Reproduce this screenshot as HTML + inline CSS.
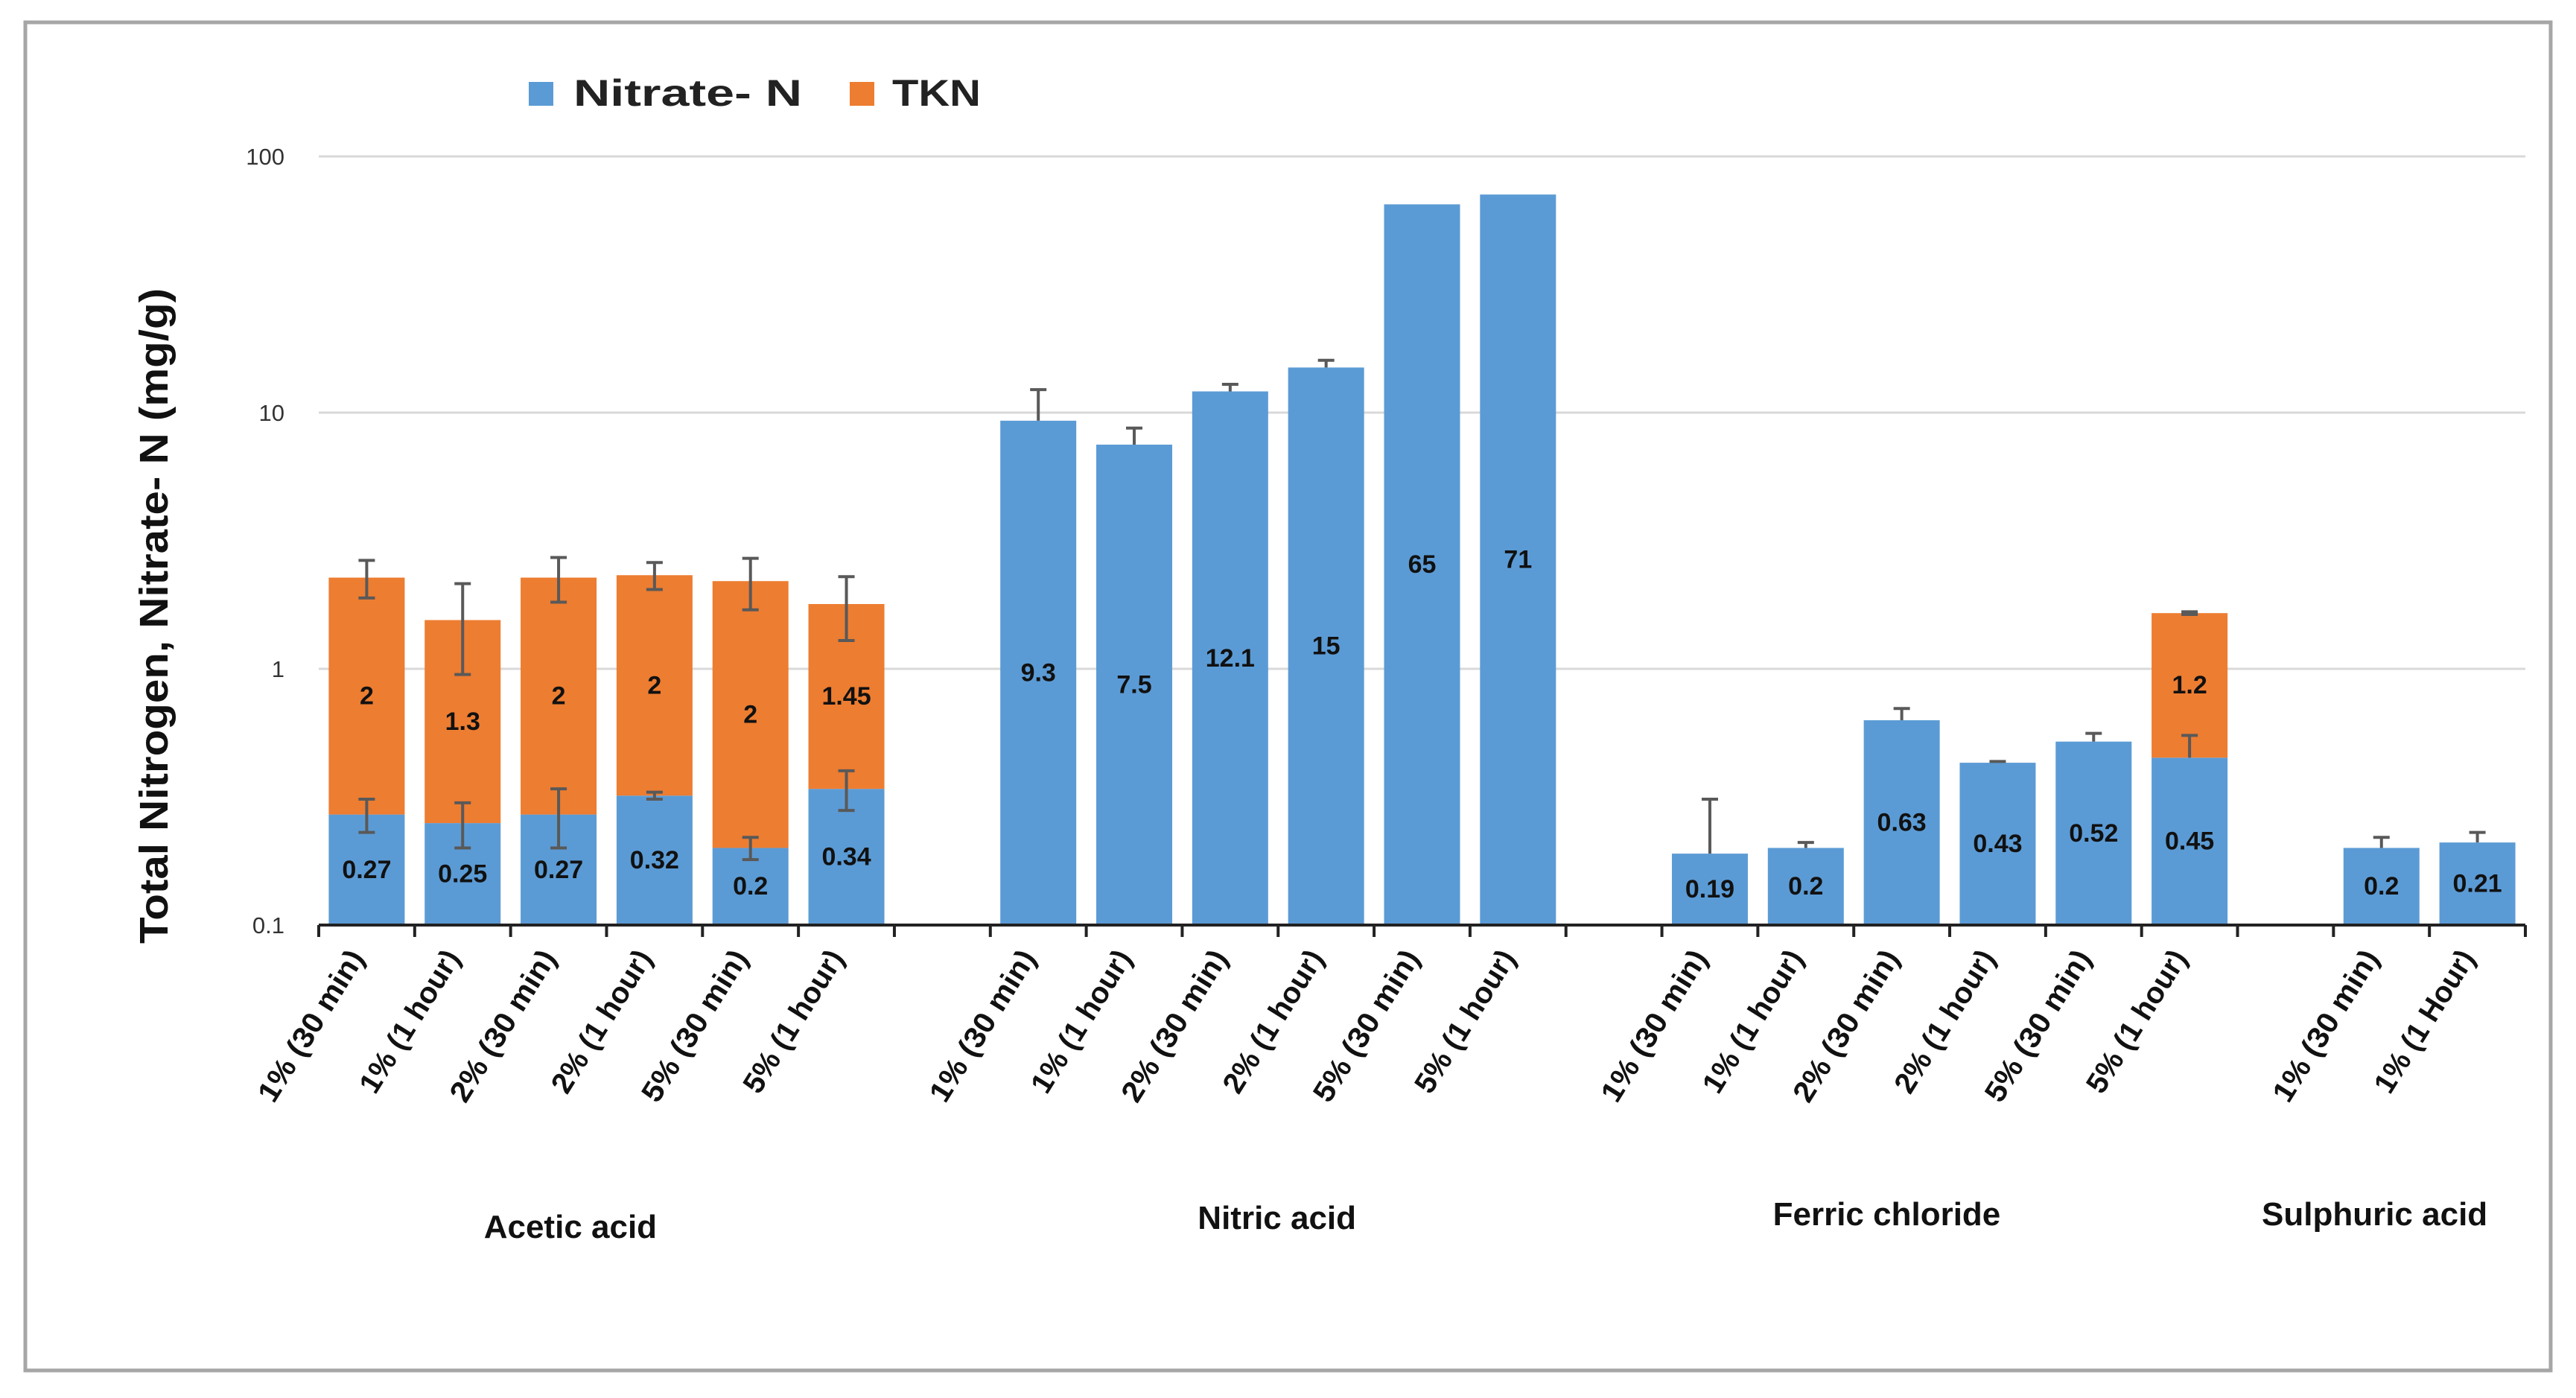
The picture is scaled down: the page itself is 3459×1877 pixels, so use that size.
<!DOCTYPE html>
<html><head><meta charset="utf-8"><style>
html,body{margin:0;padding:0;background:#fff;}
svg{display:block;font-family:"Liberation Sans",sans-serif;}
</style></head><body>
<svg id="chart" width="3459" height="1877" viewBox="0 0 3459 1877" xmlns="http://www.w3.org/2000/svg">
<rect x="0" y="0" width="3459" height="1877" fill="#fff"/>
<rect x="34" y="30" width="3391" height="1810" fill="none" stroke="#a6a6a6" stroke-width="5"/>
<g id="grid"></g>
<g id="bars"></g>
<g id="errs"></g>
<g id="vals"></g>
<g id="axis"></g>
<g>
  <rect x="710" y="110" width="33" height="32" fill="#5B9BD5"/>
  <text x="770" y="142" font-size="50" font-weight="bold" fill="#222" textLength="307" lengthAdjust="spacingAndGlyphs">Nitrate- N</text>
  <rect x="1141" y="110" width="33" height="32" fill="#ED7D31"/>
  <text x="1198" y="142" font-size="50" font-weight="bold" fill="#222" textLength="119" lengthAdjust="spacingAndGlyphs">TKN</text>
</g>
<text transform="translate(225,827) rotate(-90)" text-anchor="middle" font-size="54" font-weight="bold" fill="#111" textLength="880" lengthAdjust="spacingAndGlyphs">Total Nitrogen, Nitrate- N (mg/g)</text>
</svg>
<script>
const categories = ["1% (30 min)","1% (1 hour)","2% (30 min)","2% (1 hour)","5% (30 min)","5% (1 hour)",
 "1% (30 min)","1% (1 hour)","2% (30 min)","2% (1 hour)","5% (30 min)","5% (1 hour)",
 "1% (30 min)","1% (1 hour)","2% (30 min)","2% (1 hour)","5% (30 min)","5% (1 hour)",
 "1% (30 min)","1% (1 Hour)"];
const slots = [0,1,2,3,4,5, 7,8,9,10,11,12, 14,15,16,17,18,19, 21,22];
const nitrate = [0.27,0.25,0.27,0.32,0.2,0.34, 9.3,7.5,12.1,15,65,71, 0.19,0.2,0.63,0.43,0.52,0.45, 0.2,0.21];
const tkn = [2,1.3,2,2,2,1.45, 0,0,0,0,0,0, 0,0,0,0,0,1.2, 0,0];
const tknLabels = ["2","1.3","2","2","2","1.45","","","","","","","","","","","","1.2","",""];
const nitrateErrUp = [0.04,0.05,0.07,0.01,0.02,0.06, 3,1.2,0.8,1.0,0,0, 0.12,0.01,0.07,0.005,0.04,0.1, 0.02,0.02];
const nitrateErrDown = [0.04,0.05,0.07,0.01,0.02,0.06, 0,0,0,0,0,0, 0,0,0,0,0,0, 0,0];
const tknErr = [0.38,0.6,0.45,0.28,0.5,0.5, 0,0,0,0,0,0, 0,0,0,0,0,0.02, 0,0];
const groups = ["Acetic acid","Nitric acid","Ferric chloride","Sulphuric acid"];
const groupSlotCenters = [3, 10, 17, 22];
const yTicks = [0.1,1,10,100];
const yTickLabels = ["0.1","1","10","100"];

const NS="http://www.w3.org/2000/svg";
const X0=428, X1=3391, NSLOT=23, SW=(X1-X0)/NSLOT, BW=102;
const Y0=1242, DEC=344;
function y(v){return Y0-DEC*Math.log10(v/0.1);}
function xc(s){return X0+(s+0.5)*SW;}
function mk(tag,attrs,parent){const e=document.createElementNS(NS,tag);for(const k in attrs)e.setAttribute(k,attrs[k]);parent.appendChild(e);return e;}
const grid=document.getElementById('grid'),bars=document.getElementById('bars'),errs=document.getElementById('errs'),vals=document.getElementById('vals'),axis=document.getElementById('axis');

yTicks.forEach((t,i)=>{
  if(i>0){const l=mk('line',{x1:X0,x2:X1,y1:y(t),y2:y(t),stroke:'#d9d9d9','stroke-width':3},grid);
  
  }
  const tx=mk('text',{x:382,y:y(t)+11,'text-anchor':'end','font-size':31,fill:'#333'},grid);
  tx.textContent=yTickLabels[i];
  
  
});

nitrate.forEach((n,i)=>{
  const cx=xc(slots[i]);
  const total=n+tkn[i];
  const b=mk('rect',{x:cx-BW/2,y:y(n),width:BW,height:Y0-y(n),fill:'#5B9BD5'},bars);
  
  
  if(tkn[i]>0){
    const o=mk('rect',{x:cx-BW/2,y:y(total),width:BW,height:y(n)-y(total),fill:'#ED7D31'},bars);
    
    
    const g=mk('g',{},errs);
    
    
    const tt=y(total+tknErr[i]), tb=y(total-tknErr[i]);
    mk('line',{x1:cx,x2:cx,y1:tt,y2:tb,stroke:'#595959','stroke-width':4},g);
    mk('line',{x1:cx-11,x2:cx+11,y1:tt,y2:tt,stroke:'#595959','stroke-width':4},g);
    mk('line',{x1:cx-11,x2:cx+11,y1:tb,y2:tb,stroke:'#595959','stroke-width':4},g);
    const lt=mk('text',{x:cx,y:(y(n)+y(total))/2+11,'text-anchor':'middle','font-size':34,'font-weight':'bold',fill:'#111'},vals);
    lt.textContent=tknLabels[i];
    
    
  }
  const ge=mk('g',{},errs);
  
  
  const et=y(n+nitrateErrUp[i]);
  const eb= nitrateErrDown[i]>0 ? y(n-nitrateErrDown[i]) : y(n);
  if(nitrateErrUp[i]>0){
    mk('line',{x1:cx,x2:cx,y1:et,y2:eb,stroke:'#595959','stroke-width':4},ge);
    mk('line',{x1:cx-11,x2:cx+11,y1:et,y2:et,stroke:'#595959','stroke-width':4},ge);
    if(nitrateErrDown[i]>0) mk('line',{x1:cx-11,x2:cx+11,y1:eb,y2:eb,stroke:'#595959','stroke-width':4},ge);
  }
  const ln=mk('text',{x:cx,y:(Y0+y(n))/2+11,'text-anchor':'middle','font-size':34,'font-weight':'bold',fill:'#111'},vals);
  ln.textContent=String(n);
  
  
});

const al=mk('line',{x1:X0,x2:X1,y1:Y0,y2:Y0,stroke:'#222','stroke-width':4},axis);


for(let s=0;s<=NSLOT;s++){
  const tk=mk('line',{x1:X0+s*SW,x2:X0+s*SW,y1:Y0,y2:Y0+16,stroke:'#222','stroke-width':4},axis);
  
  
}
categories.forEach((c,i)=>{
  const cx=xc(slots[i]);
  const t=mk('text',{transform:`translate(${cx-2},${Y0+44}) rotate(-58)`,'text-anchor':'end','font-size':40,'font-weight':'bold',fill:'#111'},axis);
  t.textContent=c;
  t.setAttribute('textLength', c.indexOf('min')>=0?232:218);
  t.setAttribute('lengthAdjust','spacingAndGlyphs');
  
  
});
const gy=[1662,1650,1645,1645];
const gxOff=[-113,-66,-149,-138];
groups.forEach((g,i)=>{
  const t=mk('text',{x:xc(groupSlotCenters[i])+gxOff[i],y:gy[i],'text-anchor':'middle','font-size':44,'font-weight':'bold',fill:'#111'},axis);
  t.textContent=g;
  
  
});
</script>
</body></html>
